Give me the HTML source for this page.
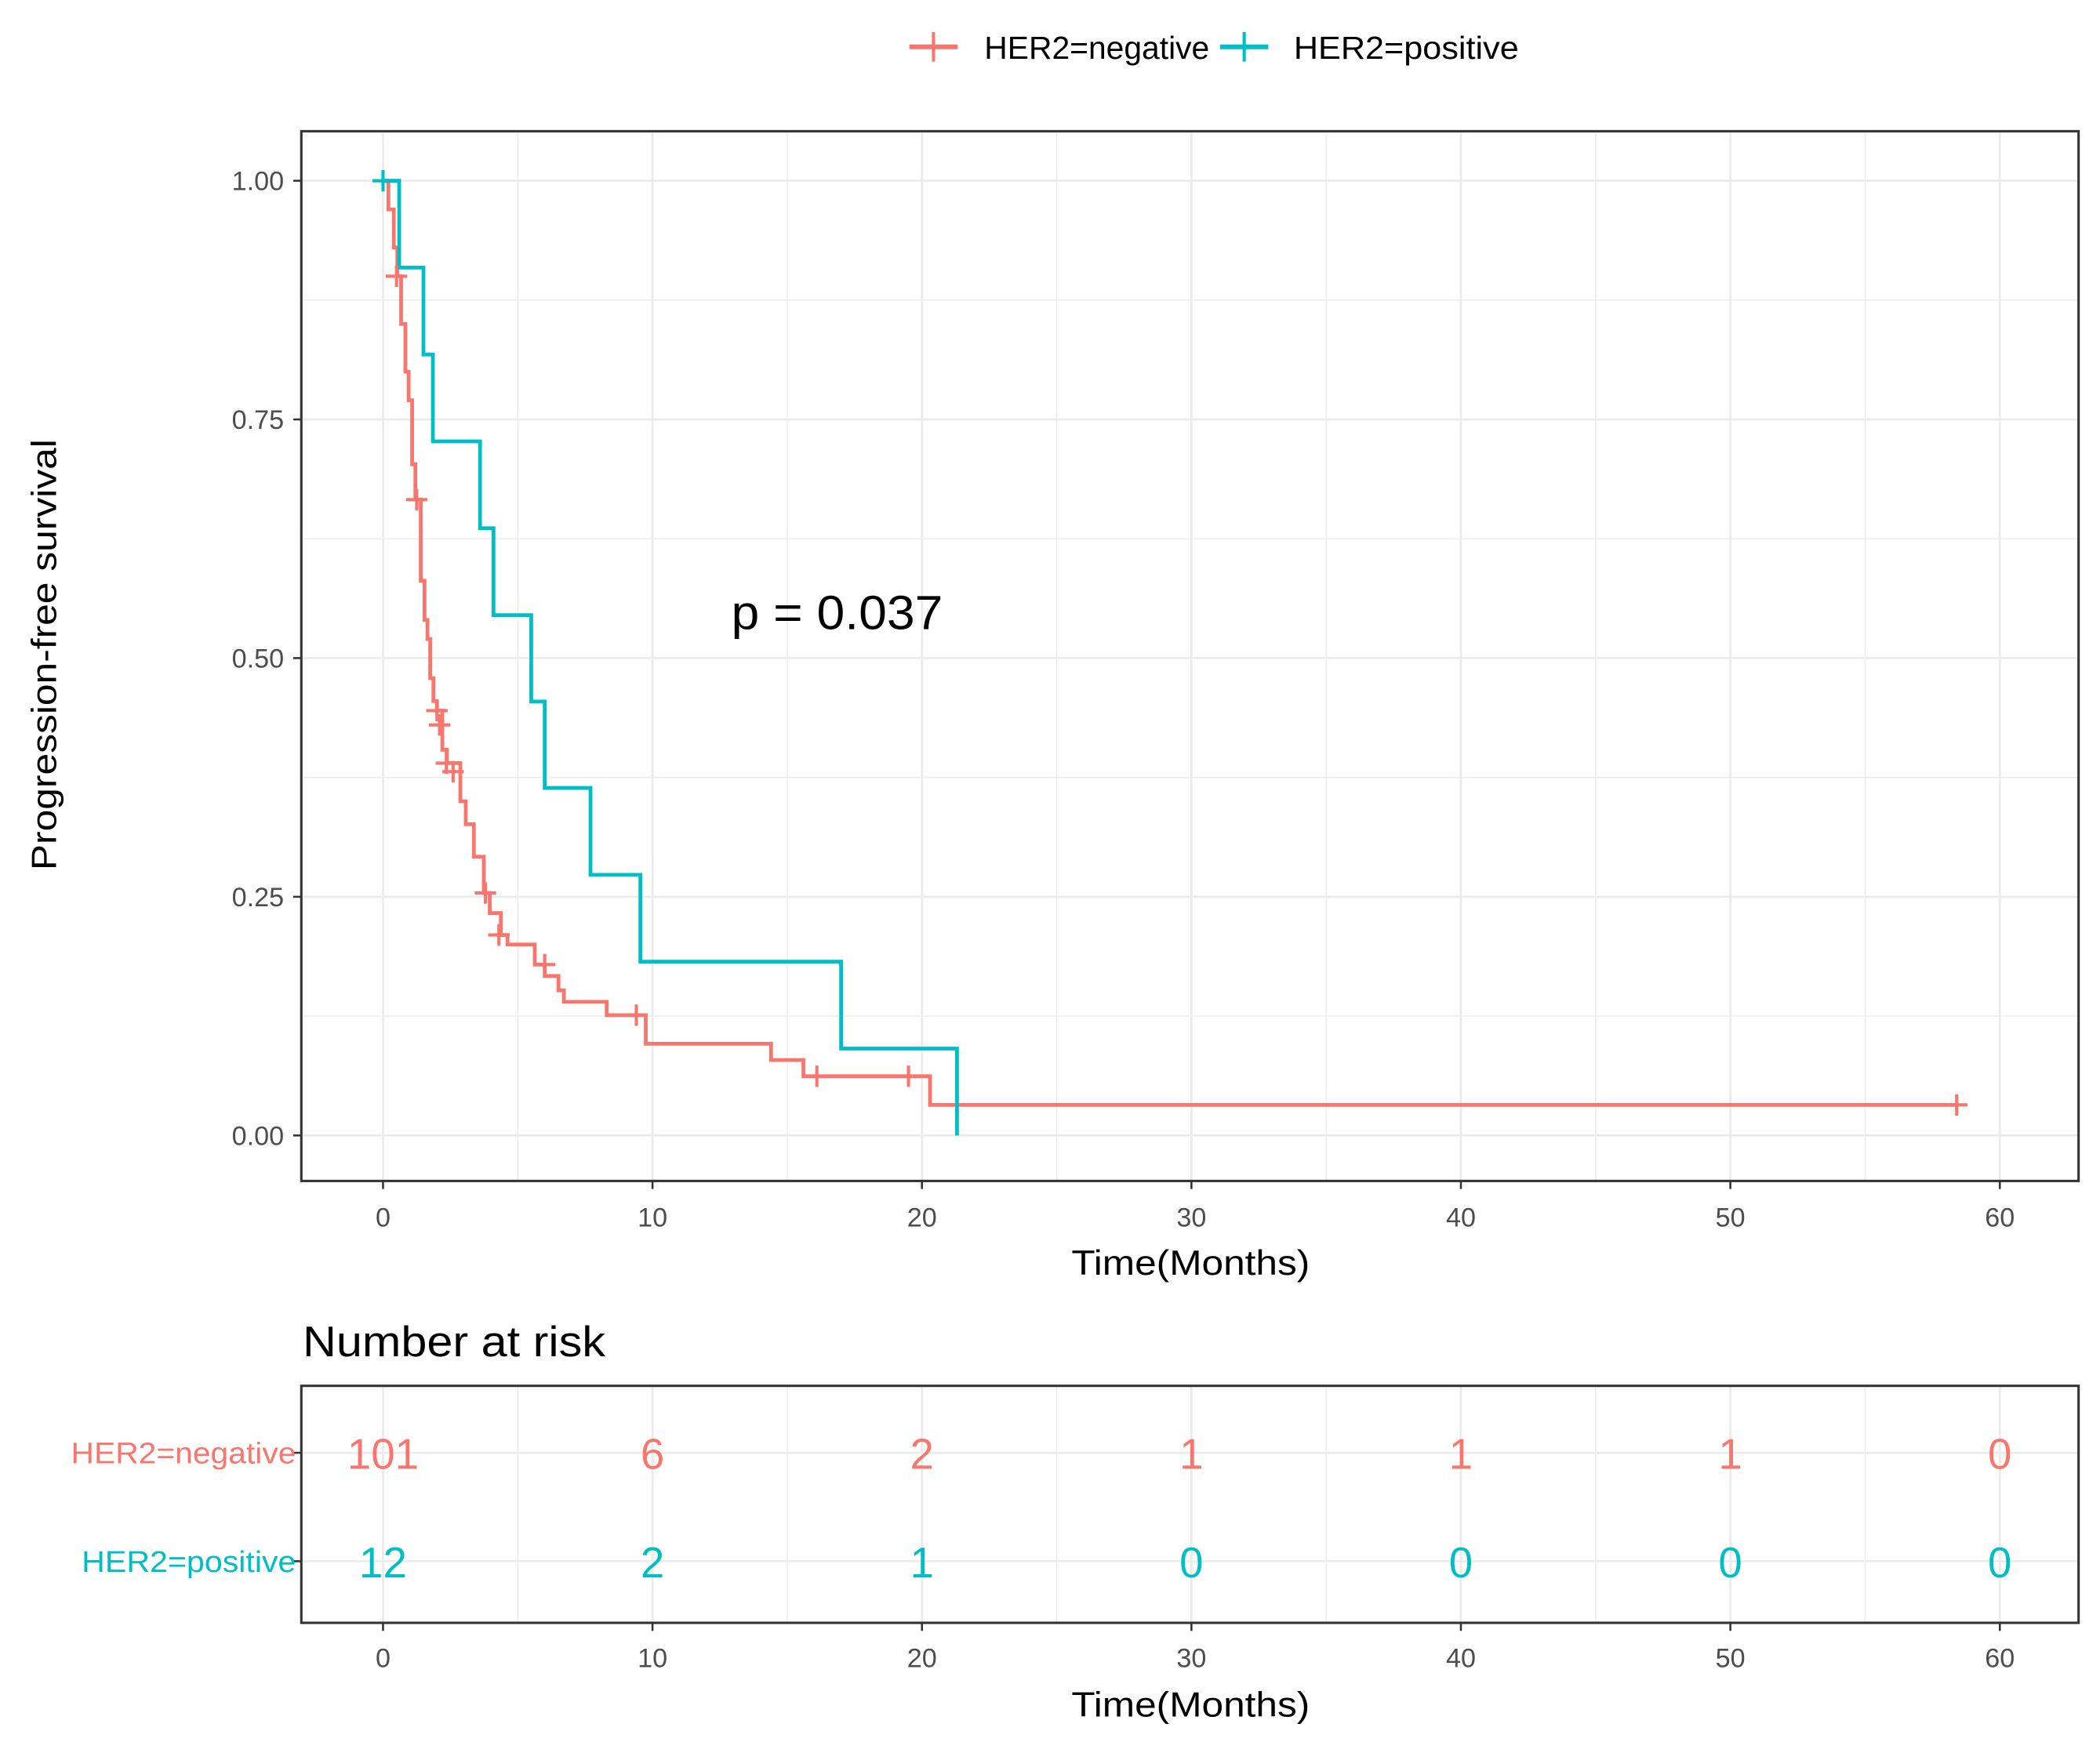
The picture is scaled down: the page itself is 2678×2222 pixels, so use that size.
<!DOCTYPE html>
<html><head><meta charset="utf-8"><style>
html,body{margin:0;padding:0;background:#fff}
svg{display:block}
text{font-family:"Liberation Sans",sans-serif}
</style></head><body>
<svg id="chart" width="2678" height="2222" viewBox="0 0 1568 1301" preserveAspectRatio="none" xmlns="http://www.w3.org/2000/svg"></svg>
<script>
// ---- data ----
const xTicks = [0,10,20,30,40,50,60];
const yTicks = [0,0.25,0.5,0.75,1.0];
const yTickLabels = ["0.00","0.25","0.50","0.75","1.00"];
const negTimes = [0.2,0.4,0.53,0.67,0.83,0.95,1.08,1.2,1.4,1.54,1.65,1.75,1.87,2.0,2.2,2.37,2.87,3.07,3.37,3.74,3.96,4.37,4.62,5.63,6.0,6.51,6.71,8.3,9.75,14.4,15.6,20.3];
const negSurv = [0.97,0.93,0.90,0.85,0.80,0.77,0.703,0.666,0.581,0.540,0.520,0.479,0.455,0.445,0.404,0.390,0.350,0.326,0.292,0.254,0.233,0.210,0.200,0.179,0.167,0.152,0.140,0.126,0.096,0.079,0.062,0.032];
const negEnd = 58.4;
const negCensT = [0.5,1.25,2.0,2.1,2.35,2.6,3.8,4.3,6.0,9.4,16.1,19.5,58.4];
const negCensS = [0.90,0.666,0.445,0.43,0.39,0.381,0.254,0.210,0.179,0.126,0.062,0.062,0.032];
const posTimes = [0.6,1.5,1.85,3.6,4.1,5.5,6.0,7.7,9.55,17.0,21.3];
const posSurv = [0.909,0.818,0.727,0.636,0.545,0.4545,0.364,0.273,0.182,0.091,0];
const posEnd = 21.3;
const posCensT = [0];
const posCensS = [1.0];
const riskNeg = [101,6,2,1,1,1,0];
const riskPos = [12,2,1,0,0,0,0];

const RED="#F8766D", CYAN="#00BFC4";
const svg=document.getElementById('chart');
const NS="http://www.w3.org/2000/svg";
function mk(tag,attrs,parent){const e=document.createElementNS(NS,tag);for(const k in attrs)e.setAttribute(k,attrs[k]);(parent||svg).appendChild(e);return e;}
const P={l:225,r:1552,t:98,b:882};
const xs=t=>286+t*20.12;
const ys=s=>848-s*713;
const R={t:1035,b:1212};

// main panel grid
const grid=mk('g',{});


for(let t=-5;t<=65;t+=5){const x=xs(t);if(x<P.l||x>P.r)continue;
 mk('line',{x1:x,x2:x,y1:P.t,y2:P.b,stroke:'#ebebeb','stroke-width':t%10===0?1.6:0.8},grid);}
for(let s=-0.125;s<=1.125;s+=0.125){const y=ys(s);if(y<P.t||y>P.b)continue;
 mk('line',{x1:P.l,x2:P.r,y1:y,y2:y,stroke:'#ebebeb','stroke-width':Math.abs(s*4-Math.round(s*4))<1e-6?1.6:0.8},grid);}

function curve(times,surv,end,color,name){
 let d=`M${xs(0)},${ys(1)}`;let prev=1;
 for(let i=0;i<times.length;i++){d+=` H${xs(times[i])} V${ys(surv[i])}`;prev=surv[i];}
 d+=` H${xs(end)}`;
 const p=mk('path',{d:d,fill:'none',stroke:color,'stroke-width':2.8});
 
 
}
function cens(ts,ss,color,name){
 const g=mk('g',{stroke:color,'stroke-width':2.4});
 
 
 for(let i=0;i<ts.length;i++){const x=xs(ts[i]),y=ys(ss[i]);
  mk('line',{x1:x-8,x2:x+8,y1:y,y2:y},g);mk('line',{x1:x,x2:x,y1:y-8,y2:y+8},g);}
}
curve(negTimes,negSurv,negEnd,RED,'her2-negative-curve');
curve(posTimes,posSurv,posEnd,CYAN,'her2-positive-curve');
cens(negCensT,negCensS,RED,'her2-negative-censor-marks');
cens(posCensT,posCensS,CYAN,'her2-positive-censor-marks');
const fr=mk('rect',{x:P.l,y:P.t,width:P.r-P.l,height:P.b-P.t,fill:'none',stroke:'#333','stroke-width':1.8});



// y axis
yTicks.forEach((v,i)=>{const y=ys(v);
 mk('line',{x1:P.l-6,x2:P.l,y1:y,y2:y,stroke:'#333','stroke-width':1.5});
 const t=mk('text',{x:P.l-13,y:y+7,'text-anchor':'end','font-size':20,fill:'#4d4d4d'});t.textContent=yTickLabels[i];
 
 
});
function xaxis(yb,ly,ty,nm){
 xTicks.forEach(v=>{const x=xs(v);
  mk('line',{x1:x,x2:x,y1:yb,y2:yb+6,stroke:'#333','stroke-width':1.5});
  const t=mk('text',{x:x,y:ly,'text-anchor':'middle','font-size':20,fill:'#4d4d4d'});t.textContent=v;
  
  
 });
 const t=mk('text',{x:889,y:ty,'text-anchor':'middle','font-size':26,fill:'#000',textLength:178,lengthAdjust:'spacingAndGlyphs'});t.textContent='Time(Months)';
 
 
}
xaxis(P.b,916,952,'x-axis-title');
const yt=mk('text',{x:0,y:0,'text-anchor':'middle','font-size':26,fill:'#000',transform:'translate(42,489) rotate(-90)',textLength:322,lengthAdjust:'spacingAndGlyphs'});
yt.textContent='Progression-free survival';



const pv=mk('text',{x:546,y:470,'font-size':36,fill:'#000',textLength:158,lengthAdjust:'spacingAndGlyphs'});pv.textContent='p = 0.037';



// legend
function legend(x1,tx,color,label,nm){
 const g=mk('g',{});
 
 
 mk('line',{x1:x1,x2:x1+36,y1:35,y2:35,stroke:color,'stroke-width':3.5},g);
 mk('line',{x1:x1+18,x2:x1+18,y1:24,y2:46,stroke:color,'stroke-width':2.4},g);
 const t=mk('text',{x:tx,y:44,'font-size':24,fill:'#000',textLength:168,lengthAdjust:'spacingAndGlyphs'},g);t.textContent=label;
}
legend(679,735,RED,'HER2=negative','legend-entry-negative');
legend(911,966,CYAN,'HER2=positive','legend-entry-positive');

// risk table
const rt=mk('text',{x:226,y:1013,'font-size':32,fill:'#000',textLength:226,lengthAdjust:'spacingAndGlyphs'});rt.textContent='Number at risk';


const rg=mk('g',{});


for(let t=-5;t<=65;t+=5){const x=xs(t);if(x<P.l||x>P.r)continue;
 mk('line',{x1:x,x2:x,y1:R.t,y2:R.b,stroke:'#ebebeb','stroke-width':t%10===0?1.6:0.8},rg);}
const rows=[{y:1085,vals:riskNeg,c:RED,lab:'HER2=negative',n:'risk-row-negative'},{y:1166,vals:riskPos,c:CYAN,lab:'HER2=positive',n:'risk-row-positive'}];
rows.forEach(r=>{
 mk('line',{x1:P.l,x2:P.r,y1:r.y,y2:r.y,stroke:'#ebebeb','stroke-width':1.6},rg);
 mk('line',{x1:P.l-6,x2:P.l,y1:r.y,y2:r.y,stroke:'#333','stroke-width':1.5});
 const lt=mk('text',{x:221,y:r.y+8,'text-anchor':'end','font-size':22,fill:r.c,textLength:r.lab.indexOf('neg')>0?168:160,lengthAdjust:'spacingAndGlyphs'});lt.textContent=r.lab;
 
 
 r.vals.forEach((v,i)=>{
  const t=mk('text',{x:xs(xTicks[i]),y:r.y+12,'text-anchor':'middle','font-size':32,fill:r.c});t.textContent=v;
  
  
 });
});
const rf=mk('rect',{x:P.l,y:R.t,width:P.r-P.l,height:R.b-R.t,fill:'none',stroke:'#333','stroke-width':1.8});


xaxis(R.b,1245,1282,'risk-x-axis-title');
</script>
</body></html>
